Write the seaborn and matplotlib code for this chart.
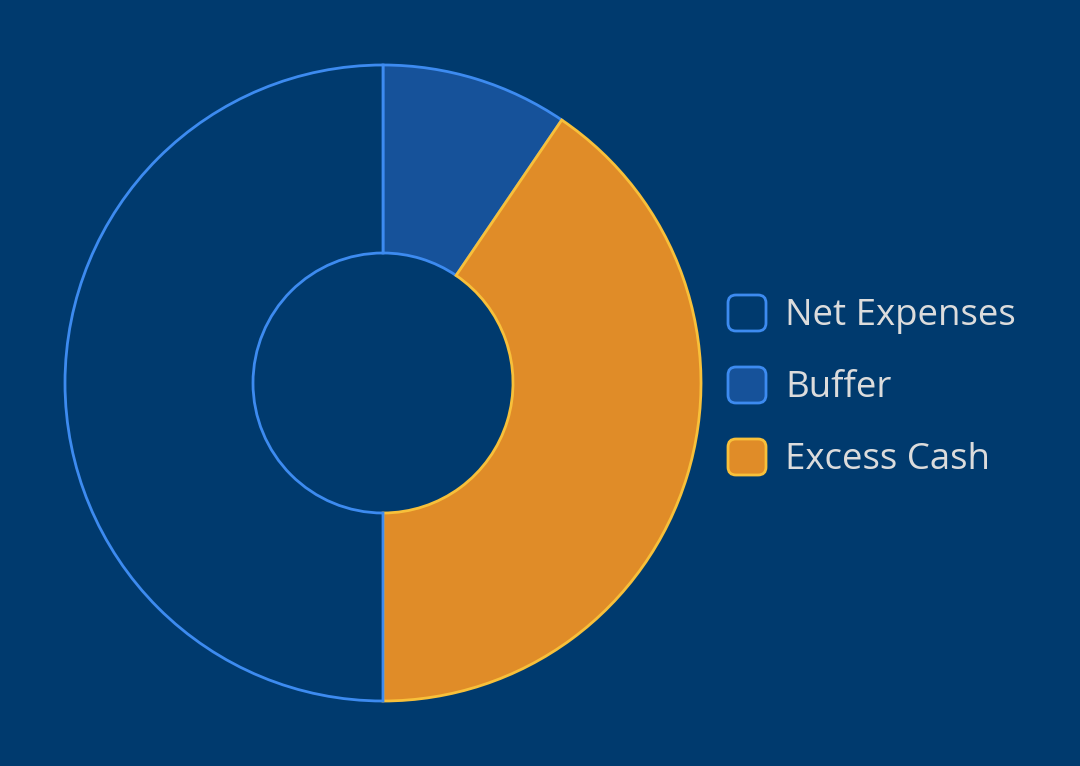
"""Cash allocation donut"""

import matplotlib
matplotlib.use('Agg')
import matplotlib.pyplot as plt
from matplotlib.patches import FancyBboxPatch
import seaborn as sns

# data (legend order)
labels = ['Net Expenses', 'Buffer', 'Excess Cash']
values = [50.0, 9.5, 40.5]
fill_colors = ['#003A6E', '#16529A', '#E08C28']
edge_colors = ['#3D8BF0', '#3D8BF0', '#F8C03A']

BG = '#003A6E'
TEXT = '#DCDCDC'

sns.set_style('dark')
plt.rcParams['font.family'] = ['Open Sans', 'DejaVu Sans']


def main():
    fig = plt.figure(figsize=(10.8, 7.66), dpi=100)
    fig.patch.set_facecolor(BG)
    ax = fig.add_axes([0, 0, 1, 1])
    ax.set_facecolor(BG)

    # clockwise from the top: Buffer, Excess Cash, Net Expenses
    order = [1, 2, 0]
    wedges, _ = ax.pie([values[i] for i in order],
                       colors=[fill_colors[i] for i in order],
                       startangle=90, counterclock=False,
                       center=(383, 383), radius=318,
                       wedgeprops=dict(width=188, linewidth=2.0))
    for w, i in zip(wedges, order):
        w.set_edgecolor(edge_colors[i])
    # pie resets limits
    ax.set_xlim(0, 1080)
    ax.set_ylim(0, 766)
    ax.set_aspect('equal')
    ax.axis('off')

    # legend with rounded boxes
    y0 = 766 - 313
    step = 72
    for k, lab in enumerate(labels):
        yc = y0 - k * step
        box = FancyBboxPatch((728, yc - 18), 38, 36,
                             boxstyle='round,pad=0,rounding_size=8',
                             facecolor=fill_colors[k], edgecolor=edge_colors[k],
                             linewidth=2.0)
        ax.add_patch(box)
        ax.text(785, yc - 12, lab, color=TEXT, fontsize=26.4,
                va='baseline', ha='left')

    fig.savefig('out.png', dpi=100, facecolor=BG)


if __name__ == "__main__":
    main()
